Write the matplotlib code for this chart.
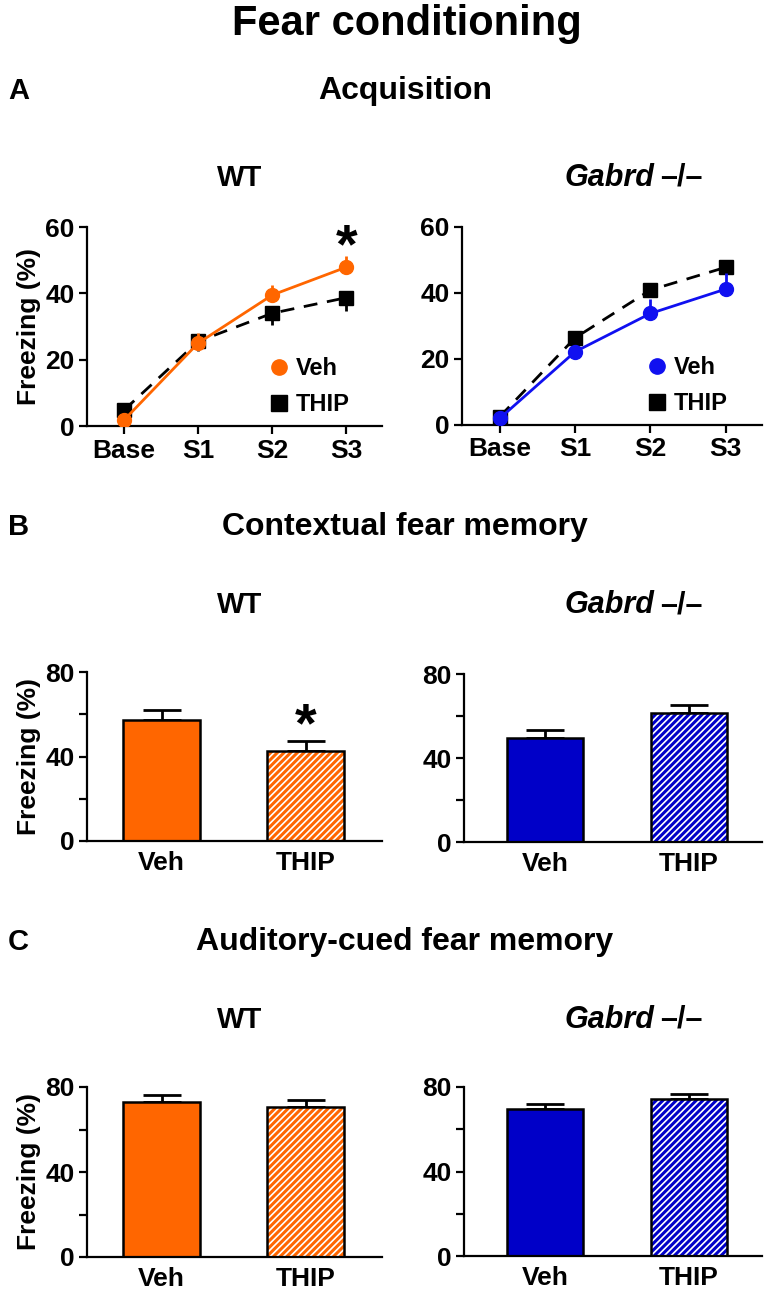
import matplotlib
matplotlib.use("Agg")
import matplotlib.pyplot as plt
from matplotlib.lines import Line2D
import numpy as np

plt.rcParams['font.family'] = ['Liberation Sans', 'DejaVu Sans']
plt.rcParams['font.weight'] = 'bold'
plt.rcParams['hatch.linewidth'] = 1.2

# ---------------- data ----------------
stages = ["Base", "S1", "S2", "S3"]

wt_veh = [1.8, 25.0, 39.5, 47.9]
wt_veh_err = [1.0, 3.0, 3.0, 3.5]
wt_thip = [4.8, 25.5, 34.0, 38.7]
wt_thip_err = [1.0, 3.0, 3.6, 4.1]

ko_veh = [2.0, 22.2, 33.8, 41.2]
ko_veh_err = [0.8, 2.0, 4.5, 5.0]
ko_thip = [2.5, 26.4, 40.9, 47.8]
ko_thip_err = [0.8, 2.0, 2.0, 2.0]

groups = ["Veh", "THIP"]
ctx_wt = [57.5, 42.6]
ctx_wt_err = [4.3, 4.6]
ctx_ko = [49.7, 61.6]
ctx_ko_err = [3.7, 3.5]

cue_wt = [73.1, 70.8]
cue_wt_err = [3.3, 3.1]
cue_ko = [69.6, 74.3]
cue_ko_err = [2.5, 2.2]

ORANGE = "#FF6600"
BLUE_LINE = "#1010F0"
BLUE_BAR = "#0000C8"

W, H = 768, 1293
fig = plt.figure(figsize=(W / 100, H / 100), dpi=100)


def ax_at(x0, y_top, x1, y_bot):
    return fig.add_axes([x0 / W, 1 - y_bot / H, (x1 - x0) / W, (y_bot - y_top) / H])


def style(ax):
    for s in ["top", "right"]:
        ax.spines[s].set_visible(False)
    for s in ["left", "bottom"]:
        ax.spines[s].set_linewidth(1.6)
    ax.tick_params(axis="both", width=1.6, length=6, labelsize=19, pad=3)
    for lab in ax.get_xticklabels() + ax.get_yticklabels():
        lab.set_fontweight("bold")


def line_panel(ax, veh, veh_err, thip, thip_err, color, veh_dir, thip_dir):
    x = np.arange(len(stages))
    ve = np.zeros((2, len(x)))
    te = np.zeros((2, len(x)))
    ve[0 if veh_dir == "down" else 1] = veh_err
    te[0 if thip_dir == "down" else 1] = thip_err
    ax.errorbar(x, thip, yerr=te, fmt="none", ecolor="black", elinewidth=2, capsize=0, zorder=2)
    ax.plot(x, thip, color="black", lw=2, dashes=(5, 3.5), marker="s", ms=10, zorder=3)
    ax.errorbar(x, veh, yerr=ve, fmt="none", ecolor=color, elinewidth=2, capsize=0, zorder=4)
    ax.plot(x, veh, color=color, lw=2, marker="o", ms=10, zorder=5)
    ax.set_xlim(-0.5, 3.48)
    ax.set_ylim(0, 60)
    ax.set_yticks([0, 20, 40, 60])
    ax.set_xticks(x)
    ax.set_xticklabels(stages)
    style(ax)
    handles = [Line2D([], [], color=color, marker="o", ms=11, lw=0),
               Line2D([], [], color="black", marker="s", ms=11, lw=0)]
    leg = ax.legend(handles, groups, loc="lower left", bbox_to_anchor=(0.555, -0.02),
                    frameon=False, fontsize=17, handletextpad=0.1, labelspacing=0.55,
                    handlelength=1.2, borderaxespad=0.2)
    for t in leg.get_texts():
        t.set_fontweight("bold")


def bar_panel(ax, vals, errs, color, xlim):
    x = np.arange(len(groups))
    ax.errorbar(x, vals, yerr=[[0, 0], errs], fmt="none", ecolor="black",
                elinewidth=2, capsize=14, capthick=2, zorder=1)
    ax.bar(x[0], vals[0], width=0.53, color=color, edgecolor="black", linewidth=1.8, zorder=2)
    ax.bar(x[1], vals[1], width=0.53, color=color, edgecolor="white", linewidth=0,
           hatch="/////", zorder=2)
    ax.bar(x[1], vals[1], width=0.53, fill=False, edgecolor="black", linewidth=1.8, zorder=3)
    ax.set_xlim(*xlim)
    ax.set_ylim(0, 80)
    ax.set_yticks([0, 40, 80])
    ax.set_yticks([20, 60], minor=True)
    ax.set_xticks(x)
    ax.set_xticklabels(groups)
    style(ax)
    ax.tick_params(axis="y", which="minor", width=1.6, length=6)
    ax.tick_params(axis="x", length=0, pad=7)


# ---------------- Row A ----------------
axA1 = ax_at(87, 227, 382, 426)
line_panel(axA1, wt_veh, wt_veh_err, wt_thip, wt_thip_err, ORANGE, "up", "down")
axA1.set_ylabel("Freezing (%)", fontsize=19, fontweight="bold", labelpad=3)
axA1.text(3, 53.5, "*", ha="center", va="center", fontsize=40, fontweight="bold")

axA2 = ax_at(462, 227, 762, 425)
line_panel(axA2, ko_veh, ko_veh_err, ko_thip, ko_thip_err, BLUE_LINE, "up", "up")

# ---------------- Row B ----------------
axB1 = ax_at(87, 672, 382, 841)
bar_panel(axB1, ctx_wt, ctx_wt_err, ORANGE, (-0.517, 1.53))
axB1.set_ylabel("Freezing (%)", fontsize=19, fontweight="bold", labelpad=3)
axB1.text(1, 54.0, "*", ha="center", va="center", fontsize=40, fontweight="bold")

axB2 = ax_at(464, 674, 762, 842)
bar_panel(axB2, ctx_ko, ctx_ko_err, BLUE_BAR, (-0.5625, 1.507))

# ---------------- Row C ----------------
axC1 = ax_at(87, 1087, 382, 1257)
bar_panel(axC1, cue_wt, cue_wt_err, ORANGE, (-0.517, 1.53))
axC1.set_ylabel("Freezing (%)", fontsize=19, fontweight="bold", labelpad=3)

axC2 = ax_at(464, 1087, 762, 1256)
bar_panel(axC2, cue_ko, cue_ko_err, BLUE_BAR, (-0.5625, 1.507))

# ---------------- texts ----------------
def ftext(x, y, s, **kw):
    fig.text(x / W, 1 - y / H, s, va="baseline", fontweight="bold", **kw)


ftext(407, 35, "Fear conditioning", ha="center", fontsize=30)
for letter, title, yb in [("A", "Acquisition", 99), ("B", "Contextual fear memory", 535),
                          ("C", "Auditory-cued fear memory", 950)]:
    ftext(8, yb, letter, ha="left", fontsize=21)
    ftext(405, yb, title, ha="center", fontsize=23)

for yb in [186, 613, 1028]:
    ftext(240, yb, "WT", ha="center", fontsize=21)
    ftext(654, yb, "Gabrd", ha="right", fontsize=22, fontstyle="italic")
    ftext(660, yb, "–/–", ha="left", fontsize=22)

fig.savefig("out.png", dpi=100)
